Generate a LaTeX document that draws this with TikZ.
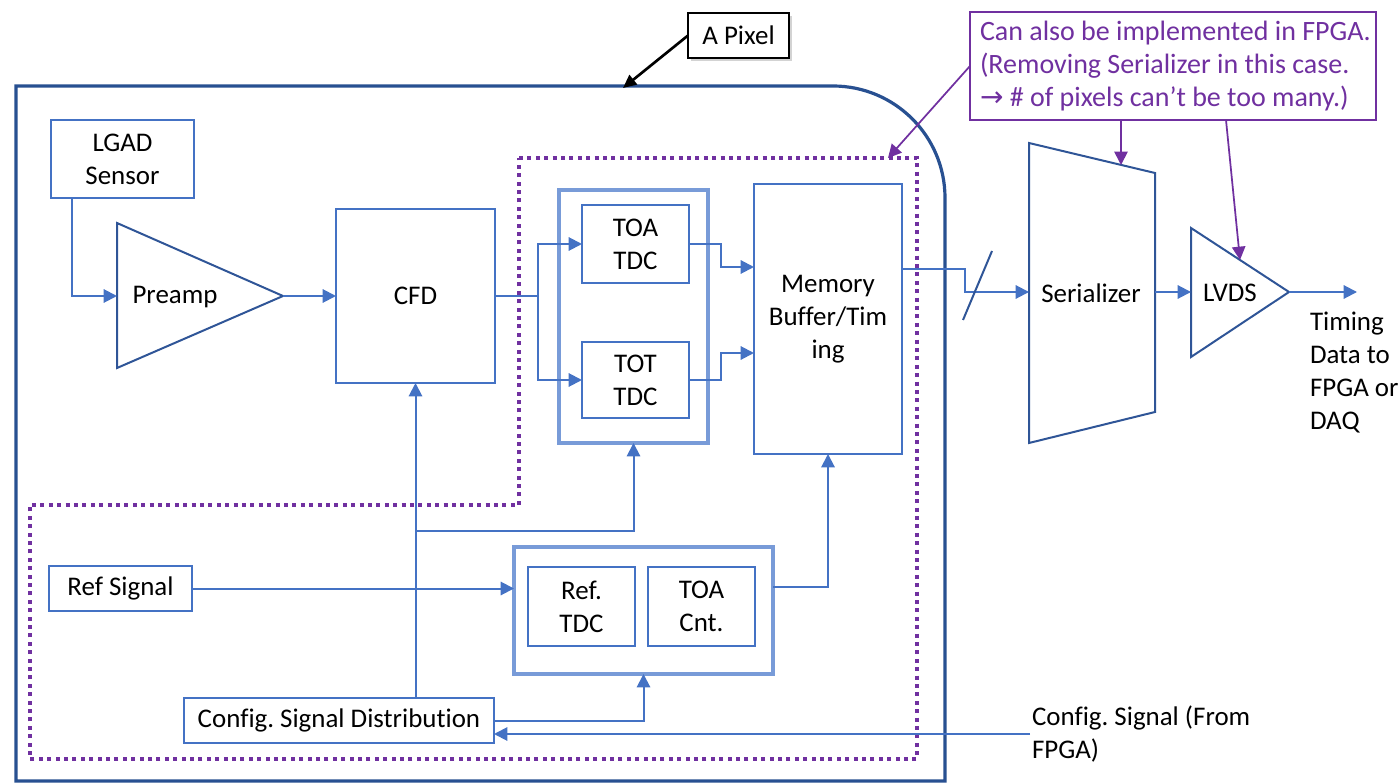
\documentclass[tikz,border=0pt]{standalone}
\usepackage{fontspec}
\setmainfont{Carlito}[Ligatures={NoCommon}]
\newfontfamily\arrowfont{DejaVu Sans}
\usetikzlibrary{arrows.meta,shadows}
\frenchspacing
\definecolor{boxblue}{RGB}{68,114,196}
\definecolor{grpblue}{RGB}{120,155,216}
\definecolor{darkblue}{RGB}{47,85,151}
\definecolor{pixblue}{RGB}{40,80,145}
\definecolor{callpurple}{RGB}{112,48,160}
\newcommand\mkbox[7]{\node[#1, minimum width={(#5-#3)*0.75pt}, minimum height={(#6-#4)*0.75pt}] (#2) at ({(#3+#5)/2},{(#4+#6)/2}) {#7};}
\begin{document}
\begin{tikzpicture}[x=0.75pt,y=-0.75pt,
  font=\fontsize{20.2}{24.8}\selectfont\frenchspacing,
  box/.style={draw=boxblue, line width=1.5pt, inner sep=0pt, outer sep=0pt, align=center},
  grp/.style={draw=grpblue, line width=2.4pt, inner sep=0pt, outer sep=0pt},
  conn/.style={draw=boxblue, line width=1.5pt},
  arr/.style={conn, -{Triangle[length=10pt,width=10pt]}},
  parr/.style={draw=callpurple, line width=1.3pt, -{Triangle[length=10pt,width=10pt]}},
  dots/.style={draw=callpurple, line width=3pt, dash pattern=on 3pt off 3.3pt},
  shp/.style={draw=darkblue, line width=1.5pt},
  lbl/.style={inner sep=0pt, outer sep=0pt}]
\useasboundingbox (0,0) rectangle (1399,784);

% pixel outline
\draw[draw=pixblue, line width=2.4pt] (16,781) -- (16,86) -- (833,86)
  arc[start angle=90, end angle=0, radius=84pt] -- (945,781) -- cycle;

% dotted region
\draw[dots] (519,158) -- (917,158) -- (917,759) -- (30,759) -- (30,505) -- (519,505) -- cycle;

% boxes
\mkbox{box}{lgad}{51}{120}{194}{198}{LGAD\\Sensor}
\mkbox{box}{cfd}{336}{209}{495}{383}{CFD}
\mkbox{grp}{tdcgrp}{559}{190}{708}{443}{}
\mkbox{box}{toa}{582}{205}{689}{283}{TOA\\TDC}
\mkbox{box}{tot}{582}{342}{689}{418}{TOT\\TDC}
\mkbox{box}{mem}{754}{184}{902}{454}{Memory\\Buffer/Tim\\ing}
\mkbox{box}{refsig}{49}{566}{192}{611}{Ref Signal}
\mkbox{grp}{refgrp}{514}{547}{773}{674}{}
\mkbox{box}{reftdc}{528}{567}{635}{646}{Ref.\\TDC}
\mkbox{box}{toacnt}{648}{567}{755}{646}{TOA\\Cnt.}
\mkbox{box}{cfg}{184}{698}{494}{743}{Config. Signal Distribution}

% preamp triangle
\draw[shp] (117,223) -- (283,296) -- (117,368) -- cycle;
\coordinate (paL) at (117,296);
\coordinate (paR) at (283,296);
\node[lbl] (preamp) at (175,297) {Preamp};

% serializer trapezoid
\draw[shp] (1029,143) -- (1155,173) -- (1155,412) -- (1029,443) -- cycle;
\coordinate (serL) at (1029,292);
\coordinate (serR) at (1155,292);
\coordinate (serTop) at (1121,165);
\node[lbl] (ser) at (1091,293) {Serializer};

% LVDS triangle
\draw[shp] (1191,228) -- (1289,292) -- (1191,357) -- cycle;
\coordinate (lvL) at (1191,292);
\coordinate (lvR) at (1289,292);
\coordinate (lvTop) at (1240,260);
\node[lbl] (lvds) at (1230,293) {LVDS};

% texts
\node[lbl, anchor=north west, align=left] (timing) at (1310,312) {Timing\\Data to\\FPGA or\\DAQ};
\node[lbl, anchor=north west, align=left] (cfgtxt) at (1032,706) {Config. Signal (From\\FPGA)};

% coordinates
\coordinate (split) at (538,296);
\coordinate (memA) at (754,267);
\coordinate (memB) at (754,353);
\coordinate (memOut) at (902,269);
\coordinate (bend) at (965,269);
\coordinate (out) at (1357,292);
\coordinate (rgOut) at (773,587);
\coordinate (br) at (415.5,531);
\coordinate (cfgIn) at (1030,734);

% connectors
\draw[arr] ([xshift=15.75pt]lgad.south west) |- (paL);
\draw[arr] (paR) -- (cfd.west);
\draw[conn] (cfd.east) -- (split);
\draw[arr] (split) |- (toa.west);
\draw[arr] (split) |- (tot.west);
\draw[arr] (toa.east) -- ++(32,0) |- (memA);
\draw[arr] (tot.east) -- ++(32,0) |- (memB);
\draw[arr] (memOut) -- (bend) |- (serL);
\draw[shp] (992,251) -- (963,320);
\draw[arr] (serR) -- (lvL);
\draw[arr] (lvR) -- (out);
\draw[arr] (refsig.east) -- (refsig.east -| refgrp.west);
\draw[arr] (rgOut) -| (mem.south);
\draw[arr] (cfg.north -| cfd.south) -- (cfd.south);
\draw[arr] (br) -| (tdcgrp.south);
\draw[arr] (cfg.east) -| (refgrp.south);
\draw[arr] (cfgIn) -- (cfgIn -| cfg.east);

% A Pixel label
\node[draw=black, line width=1.2pt, fill=white, inner sep=0pt, outer sep=0pt,
  minimum width=75.75pt, minimum height=33.75pt,
  drop shadow={opacity=0.35, shadow xshift=2pt, shadow yshift=-2pt}] (apix) at (738.5,35.5) {A Pixel};
\coordinate (apixT) at (623,88);
\draw[black, line width=2pt, -{Triangle[length=10pt,width=9pt]}] (apix.west) -- (apixT);

% purple callout
\node[draw=callpurple, line width=1pt, text=callpurple, align=left, inner sep=0pt, outer sep=0pt,
  minimum width=304.5pt, minimum height=81pt, fill=white] (callout) at (1173,66) {};
\node[lbl, text=callpurple, align=left, anchor=west, font=\fontsize{21}{24.8}\selectfont\frenchspacing] (calltxt) at (980,66)
  {Can also be implemented in FPGA.\\(Removing Serializer in this case.\\{\arrowfont\fontsize{21}{24.8}\selectfont →} \# of pixels can’t be too many.)};
\coordinate (dotTR) at (888,158);
\coordinate (calB) at (1226,120);
\draw[parr] (callout.west) -- (dotTR);
\draw[parr] (callout.south -| serTop) -- (serTop);
\draw[parr] (calB) -- (lvTop);
\end{tikzpicture}
\end{document}
